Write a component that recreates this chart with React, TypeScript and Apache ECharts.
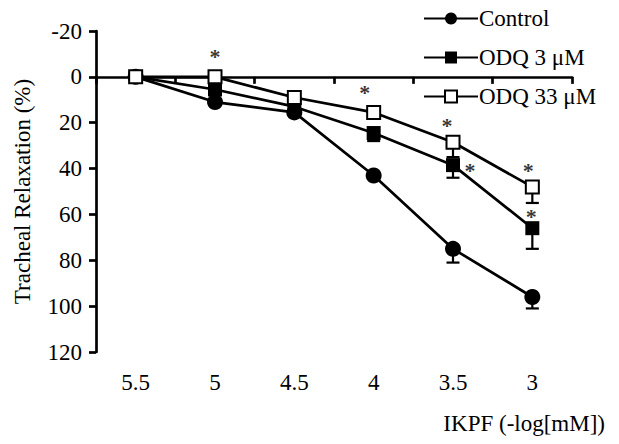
import React, { useEffect, useRef } from "react";
import * as echarts from "echarts";

const categories = ["5.5", "5", "4.5", "4", "3.5", "3"];
const controlMean = [0, 11, 15.5, 43, 75, 96];
const controlErr = [0, 0, 0, 0, 6, 5];
const odq3Mean = [0, 5.5, 13, 24.5, 38.5, 66];
const odq3Err = [0, 0, 0, 3.5, 5.5, 9];
const odq33Mean = [0, 0, 9, 15.5, 28.5, 48];
const odq33Err = [0, 0, 0, 0, 6.5, 7];
// significance asterisks: category index, value, horizontal label shift (px)
const starIdx = [1, 3, 4, 4, 5, 5];
const starVal = [-10.5, 5, 19.5, 39, 39, 59];
const starShift = [0, -9, -6, 17, -4, -1];

const FONT = "'Liberation Serif', 'Times New Roman', serif";

function errData(mean: number[], err: number[]) {
  const out: number[][] = [];
  mean.forEach((m, i) => {
    if (err[i] > 0) out.push([i, m, m + err[i]]);
  });
  return out;
}

function errSeries(mean: number[], err: number[]) {
  return {
    type: "custom",
    z: 1,
    silent: true,
    data: errData(mean, err),
    renderItem: (params: any, api: any) => {
      const x = api.value(0);
      const p0 = api.coord([x, api.value(1)]);
      const p1 = api.coord([x, api.value(2)]);
      const st = { stroke: "#000", lineWidth: 2.2 };
      return {
        type: "group",
        children: [
          { type: "line", shape: { x1: p0[0], y1: p0[1], x2: p1[0], y2: p1[1] }, style: st },
          { type: "line", shape: { x1: p1[0] - 6.5, y1: p1[1], x2: p1[0] + 6.5, y2: p1[1] }, style: st },
        ],
      };
    },
  };
}

export default function App() {
  const ref = useRef<HTMLDivElement>(null);
  useEffect(() => {
    if (!ref.current) return;
    const chart = echarts.init(ref.current, null, { renderer: "svg" });
    const lineStyle = { color: "#000", width: 2.7 };
    chart.setOption({
      animation: false,
      backgroundColor: "#fff",
      textStyle: { fontFamily: FONT, color: "#000" },
      grid: { left: 96, right: 47, top: 31, bottom: 92 },
      legend: {
        data: ["Control", "ODQ 3 μM", "ODQ 33 μM"],
        orient: "vertical",
        left: 418,
        top: 2,
        itemWidth: 54,
        itemHeight: 15,
        itemGap: 16,
        textStyle: { fontFamily: FONT, fontSize: 23, color: "#000", padding: [0, 0, 0, -4] },
      },
      xAxis: {
        type: "category",
        data: categories,
        boundaryGap: true,
        axisLine: { lineStyle: { color: "#000", width: 2.7 } },
        axisTick: { show: true, length: 7, lineStyle: { color: "#000", width: 2.7 } },
        axisLabel: { fontFamily: FONT, fontSize: 23, color: "#000", margin: 19 },
        splitLine: { show: false },
      },
      yAxis: {
        type: "value",
        inverse: true,
        min: -20,
        max: 120,
        interval: 20,
        name: "Tracheal Relaxation (%)",
        nameLocation: "middle",
        nameGap: 62,
        nameRotate: 90,
        nameTextStyle: { fontFamily: FONT, fontSize: 23, color: "#000" },
        axisLine: { show: true, lineStyle: { color: "#000", width: 2.7 } },
        axisTick: { show: true, length: 7, lineStyle: { color: "#000", width: 2.7 } },
        axisLabel: { fontFamily: FONT, fontSize: 23, color: "#000", margin: 14 },
        splitLine: { show: false },
      },
      graphic: [
        {
          type: "text",
          right: 14,
          top: 412,
          style: { text: "IKPF (-log[mM])", fontFamily: FONT, fontSize: 23, fill: "#000" },
        },
      ],
      series: [
        errSeries(controlMean, controlErr),
        errSeries(odq3Mean, odq3Err),
        errSeries(odq33Mean, odq33Err),
        {
          name: "Control",
          type: "line",
          z: 3,
          data: controlMean,
          symbol: "circle",
          symbolSize: 16,
          lineStyle,
          itemStyle: { color: "#000", borderColor: "#000", borderWidth: 0 },
        },
        {
          name: "ODQ 3 μM",
          type: "line",
          z: 4,
          data: odq3Mean,
          symbol: "rect",
          symbolSize: 14,
          lineStyle,
          itemStyle: { color: "#000", borderColor: "#000", borderWidth: 0 },
        },
        {
          name: "ODQ 33 μM",
          type: "line",
          z: 5,
          data: odq33Mean,
          symbol: "rect",
          symbolSize: 13,
          lineStyle,
          itemStyle: { color: "#fff", borderColor: "#000", borderWidth: 2 },
        },
        {
          type: "scatter",
          z: 6,
          silent: true,
          symbolSize: 0,
          itemStyle: { color: "#000" },
          data: starIdx.map((x, i) => ({
            value: [x, starVal[i]],
            label: { offset: [starShift[i], 4] },
          })),
          label: {
            show: true,
            position: "inside",
            formatter: "*",
            fontFamily: FONT,
            fontSize: 22,
            fontWeight: "bold",
            color: "#000",
          },
        },
      ],
    });
    return () => chart.dispose();
  }, []);
  return (
    <div
      ref={ref}
      style={{ position: "fixed", left: 0, top: 0, width: 619, height: 444, background: "#fff" }}
    />
  );
}
